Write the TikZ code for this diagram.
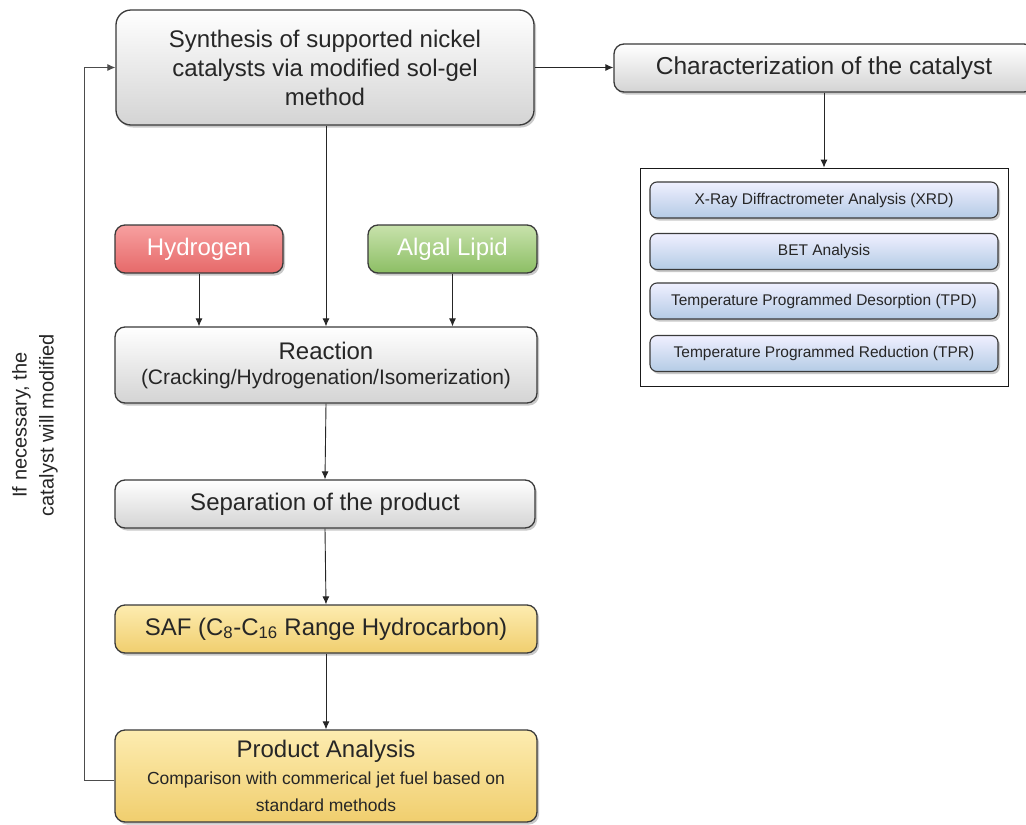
\documentclass[tikz,border=0pt]{standalone}
\usepackage{fontspec}
\setmainfont{Liberation Sans}
\usetikzlibrary{arrows.meta,shadows,positioning}
\definecolor{edgec}{HTML}{3A3A3A}
\definecolor{txt}{HTML}{262626}
\tikzset{
  box/.style={draw=edgec, line width=1.3pt, rounded corners=10pt, align=center, text=txt,
    inner sep=2pt, drop shadow={shadow xshift=2pt, shadow yshift=-2.5pt, opacity=0.35, fill=black!60}},
  graybox/.style={box, top color=white, bottom color=black!17},
  bluebox/.style={box, line width=1.1pt, rounded corners=7pt, top color=blue!6!white, bottom color={rgb,255:red,180;green,203;blue,229},
    font=\fontsize{15.5}{18}\selectfont, minimum width=348pt, minimum height=36pt},
  redbox/.style={box, top color={rgb,255:red,247;green,160;blue,160}, bottom color={rgb,255:red,230;green,105;blue,105}, text=white,
    font=\fontsize{24}{28}\selectfont, minimum width=168pt, minimum height=48pt},
  greenbox/.style={box, top color={rgb,255:red,200;green,226;blue,172}, bottom color={rgb,255:red,140;green,190;blue,100}, text=white,
    font=\fontsize{24}{28}\selectfont, minimum width=169pt, minimum height=48pt},
  yellowbox/.style={box, top color={rgb,255:red,253;green,236;blue,176}, bottom color={rgb,255:red,240;green,206;blue,110}},
  conn/.style={draw=black!85, line width=0.9pt, -{Latex[length=8pt,width=7pt]}},
}
\begin{document}
\begin{tikzpicture}[x=1pt,y=-1pt]
\useasboundingbox (0,0) rectangle (1026,825);
\fill[white] (0,0) rectangle (1026,825);
\clip (0,0) rectangle (1026,825);
% main column
\node[graybox, rounded corners=15pt, minimum width=418pt, minimum height=115pt, font=\fontsize{24}{29}\selectfont] (syn) at (325,67.5)
  {Synthesis of supported nickel\\catalysts via modified sol-gel\\method};
\node[graybox, minimum width=420pt, minimum height=48pt, font=\fontsize{24.5}{28}\selectfont] (char) at (824,68)
  {Characterization of the catalyst};
\node[draw=black!90, line width=0.8pt, minimum width=368pt, minimum height=218pt, inner sep=0pt] (frame) at (824,277) {};
\node[bluebox] (xrd) at (824,200) {X-Ray Diffractrometer Analysis (XRD)};
\node[bluebox] (bet) at (824,251.5) {BET Analysis};
\node[bluebox] (tpd) at (824,301) {Temperature Programmed Desorption (TPD)};
\node[bluebox] (tpr) at (824,353.5) {Temperature Programmed Reduction (TPR)};

\node[redbox] (hyd) at (199,249) {Hydrogen};
\node[greenbox] (alg) at (452.5,249) {Algal Lipid};
\node[graybox, minimum width=422pt, minimum height=76pt, font=\fontsize{24}{28}\selectfont] (reac) at (326,365)
  {\raisebox{-3pt}{Reaction}\\{\fontsize{21}{24}\selectfont (Cracking/Hydrogenation/Isomerization)}};
\node[graybox, minimum width=420pt, minimum height=48pt, font=\fontsize{24}{28}\selectfont] (sep) at (325,504)
  {Separation of the product};
\node[yellowbox, minimum width=422pt, minimum height=48pt, font=\fontsize{24}{28}\selectfont] (saf) at (326,629)
  {SAF (C\textsubscript{8}-C\textsubscript{16} Range Hydrocarbon)};
\node[yellowbox, minimum width=422pt, minimum height=92pt, font=\fontsize{24}{27}\selectfont] (prod) at (326,776)
  {Product Analysis\\{\fontsize{17.5}{21}\selectfont Comparison with commerical jet fuel based on}\\{\fontsize{17.5}{21}\selectfont standard methods}};

% connectors
\draw[conn] (syn.east) -- (char.west |- syn.east);
\draw[conn] (char.south -| frame.north) -- (frame.north);
\draw[conn] (syn.south -| reac.north) -- (reac.north);
\draw[conn] (hyd.south) -- (hyd.south |- reac.north);
\draw[conn] (alg.south) -- (alg.south |- reac.north);
\draw[conn] (reac.south) -- (sep.north);
\draw[conn] (sep.south) -- (saf.north);
\draw[conn] (saf.south) -- (prod.north);
\coordinate (fb) at (84,780);
\draw[conn, draw=black!70] (prod.west |- fb) -- (fb) |- (syn.west);

\node[rotate=90, align=center, text=txt, font=\fontsize{20}{27}\selectfont] (lbl) at (35,425)
  {If necessary, the\\catalyst will modified};
\end{tikzpicture}
\end{document}
